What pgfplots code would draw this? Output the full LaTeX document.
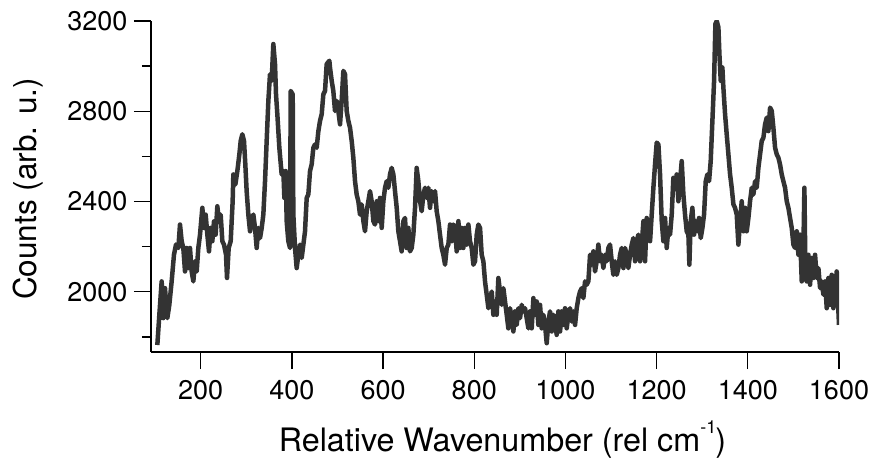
\documentclass[border=0pt]{standalone}
\usepackage{pgfplots}
\pgfplotsset{compat=1.18}
\usepackage{fontspec}
\setmainfont{TeX Gyre Heros}
\definecolor{linegray}{HTML}{333333}
\begin{document}
\begin{tikzpicture}
\path[use as bounding box] (-151pt,-112pt) rectangle (721pt,352pt);
\begin{axis}[
  at={(0pt,0pt)}, anchor=south west,
  scale only axis, width=688pt, height=331pt,
  xmin=91, xmax=1600, ymin=1733, ymax=3200,
  axis lines=left, axis line style={-, line width=1.3pt},
  every tick/.style={line width=1.3pt, black},
  tick align=outside,
  major tick length=17pt, minor tick length=9pt,
  xtick={200,400,...,1600},
  ytick={2000,2400,2800,3200},
  minor ytick={1800,2200,2600,3000},
  /pgf/number format/1000 sep={},
  /pgf/number format/assume math mode=true,
  tick label style={font=\fontsize{27}{27}\selectfont},
  xticklabel shift=8pt,
  yticklabel shift=3pt,
  xlabel={Relative Wavenumber (rel cm\raisebox{18pt}{\fontsize{18}{18}\selectfont -1}\kern-1pt)},
  xlabel style={font=\fontsize{32.3}{32.3}\selectfont, at={(axis description cs:0.5108,-0.2991)}, anchor=base},
  ylabel={Counts (arb. u.)},
  ylabel style={font=\fontsize{31.5}{31.5}\selectfont, at={(axis description cs:-0.1657,0.4924)}, anchor=base},
]
\addplot[linegray, line width=4.5pt, line join=round] coordinates {
(104.9,1764) (109.3,1898) (114.4,2046) (118.0,1883) (121.7,2016) (126.8,1883) (131.2,1942) (136.3,2046) (141.4,2164) (145.8,2209) (151.0,2194) (154.6,2298) (158.3,2224) (161.9,2194) (165.6,2090) (169.2,2194) (172.9,2105) (176.5,2194) (180.2,2090) (183.9,2046) (187.5,2135) (191.2,2090) (194.8,2194) (198.5,2253) (203.6,2372) (207.3,2283) (210.9,2342) (214.6,2253) (218.2,2179) (221.9,2283) (225.5,2224) (229.2,2312) (232.8,2253) (236.5,2379) (240.2,2312) (243.8,2342) (247.5,2224) (251.1,2209) (255.5,2164) (257.7,2061) (261.4,2194) (265.8,2224) (270.1,2401) (271.6,2520) (276.0,2475) (280.4,2535) (284.8,2609) (287.7,2668) (291.3,2698) (295.0,2668) (297.9,2564) (300.8,2446) (304.5,2342) (308.2,2268) (311.8,2327) (315.5,2342) (319.1,2283) (322.8,2194) (326.4,2283) (330.1,2238) (333.8,2283) (337.4,2342) (341.1,2490) (344.7,2668) (348.4,2846) (352.0,2964) (355.7,2935) (359.3,3098) (363.0,3009) (365.2,2875) (368.1,2787) (372.5,2638) (377.6,2520) (381.3,2535) (383.5,2416) (386.4,2535) (388.6,2312) (392.2,2224) (395.9,2194) (397.4,2890) (401.8,2875) (403.2,2342) (406.9,2194) (410.5,2105) (414.2,2164) (417.8,2209) (421.5,2150) (425.2,2209) (428.8,2268) (432.5,2416) (436.1,2431) (439.8,2535) (443.4,2564) (447.1,2638) (450.7,2653) (454.4,2638) (458.1,2712) (461.7,2757) (465.4,2787) (469.0,2875) (472.7,2890) (476.3,3009) (482.2,3024)
(483.6,2994) (487.3,2935) (490.9,2890) (494.6,2801) (498.3,2846) (501.9,2801) (505.6,2742) (509.2,2846) (512.9,2979) (516.5,2964) (520.2,2801) (523.9,2757) (527.5,2727) (531.2,2668) (534.8,2594) (538.5,2490) (542.1,2431) (545.8,2401) (549.4,2342) (553.1,2387) (556.8,2313) (560.4,2268) (564.1,2357) (567.7,2401) (571.4,2446) (575.0,2401) (578.7,2313) (582.3,2298) (586.0,2401) (589.7,2313) (593.3,2416) (597.0,2283) (600.6,2401) (604.3,2461) (607.9,2490) (611.6,2461) (615.2,2520) (618.9,2549) (622.6,2520) (626.2,2446) (629.9,2372) (633.5,2268) (637.2,2224) (640.8,2179) (644.5,2313) (648.1,2327) (651.8,2194) (655.5,2283) (659.1,2179) (662.8,2194) (666.4,2253) (670.1,2372) (673.7,2549) (677.4,2490) (681.1,2401) (684.7,2357) (688.4,2431) (692.0,2461) (695.7,2416) (699.3,2461) (703.0,2372) (706.6,2446) (710.3,2401) (714.0,2446) (717.6,2357) (721.3,2313) (724.9,2253) (728.6,2194) (732.2,2164) (735.9,2120) (739.6,2194) (743.2,2209) (746.9,2298) (750.5,2224) (754.2,2298) (757.8,2283) (761.5,2179) (765.2,2313) (768.8,2194) (772.5,2283) (776.1,2194) (779.8,2283) (783.4,2209) (787.1,2298) (790.7,2224) (794.4,2194) (798.1,2120) (801.7,2135) (805.4,2253) (809.0,2298) (812.7,2283) (816.3,2164) (820.0,2135) (823.6,2046) (827.3,1987) (831.0,1927)
(838.3,2001) (841.9,1898) (845.6,1957) (849.2,1898) (852.9,2061) (856.5,2001) (860.2,1942) (863.8,2016) (867.5,1957) (871.2,1898) (874.8,1838) (878.5,1927) (882.1,1883) (885.8,1824) (889.4,1913) (893.1,1853) (896.8,1927) (900.4,1883) (904.1,1942) (907.7,1913) (911.4,1927) (915.0,1883) (918.7,1838) (922.3,1913) (926.0,1838) (929.7,1972) (933.3,1898) (937.0,1957) (940.6,1853) (944.3,1942) (947.9,1838) (951.6,1898) (955.2,1853) (958.9,1772) (962.6,1868) (966.2,1913) (969.9,1824) (973.5,1898) (977.2,1868) (980.8,1809) (984.5,1913) (988.2,1824) (991.8,1913) (995.5,1853) (999.1,1927) (1002.8,1838) (1006.4,1898) (1010.1,1927) (1013.7,1868) (1017.4,1913) (1021.1,1853) (1024.7,1927) (1028.4,1972) (1032.0,2001) (1035.7,2016) (1039.3,1972) (1043.0,2046) (1046.6,2031) (1050.3,2046) (1054.0,2164) (1057.6,2120) (1061.3,2179) (1064.9,2090) (1068.6,2135) (1072.2,2209) (1075.9,2135) (1079.5,2164) (1083.2,2105) (1086.9,2164) (1090.5,2135) (1094.2,2194) (1097.8,2209) (1101.5,2135) (1105.1,2075) (1108.8,2135) (1112.5,2075) (1116.1,2105) (1119.8,2164) (1123.4,2194) (1127.1,2105) (1130.7,2194) (1134.4,2164) (1138.0,2105) (1141.7,2164) (1145.4,2209) (1149.0,2238) (1152.7,2135) (1156.3,2224) (1160.0,2253) (1163.6,2135) (1167.3,2209) (1171.0,2313) (1174.6,2135) (1178.3,2327) (1181.9,2283) (1185.6,2224) (1189.2,2342) (1192.9,2461) (1196.5,2564) (1200.2,2661) (1203.9,2653) (1207.5,2520)
(1211.2,2313) (1214.8,2224) (1218.5,2327) (1222.1,2194) (1225.8,2283) (1229.4,2253) (1233.1,2342) (1236.7,2505) (1240.4,2461) (1244.1,2520) (1247.7,2401) (1251.4,2490) (1255.0,2579) (1258.7,2431) (1262.3,2342) (1266.0,2268) (1269.7,2253) (1271.8,2120) (1274.8,2313) (1278.4,2372) (1282.1,2253) (1285.7,2313) (1289.4,2268) (1293.0,2327) (1296.7,2238) (1300.4,2283) (1304.0,2342) (1307.7,2490) (1311.3,2520) (1315.0,2490) (1318.6,2579) (1322.3,2757) (1326.0,2935) (1328.9,3187) (1331.8,3200) (1335.5,3172) (1337.7,3053) (1340.6,2935) (1344.2,2994) (1346.4,2905) (1350.1,2787) (1353.7,2698) (1357.4,2609) (1361.1,2520) (1364.7,2461) (1368.4,2387) (1372.0,2372) (1375.7,2342) (1379.3,2209) (1383.0,2313) (1386.6,2401) (1390.3,2268) (1394.0,2372) (1397.6,2268) (1401.3,2327) (1404.9,2401) (1408.6,2461) (1412.2,2431) (1415.9,2490) (1419.5,2461) (1423.2,2549) (1426.9,2609) (1430.5,2668) (1434.2,2683) (1437.8,2742) (1441.5,2772) (1445.1,2712) (1448.8,2816) (1452.5,2801) (1456.1,2727) (1459.8,2638) (1463.4,2609) (1467.1,2594) (1470.7,2564) (1474.4,2520) (1478.0,2490) (1481.7,2461) (1485.4,2401) (1489.0,2372) (1492.7,2327) (1496.3,2283) (1500.0,2209) (1503.6,2194) (1507.3,2268) (1511.0,2164) (1514.6,2253) (1518.3,2046) (1521.9,2194) (1524.1,2461) (1526.3,2105) (1529.2,2046) (1532.9,2164) (1536.5,2031) (1540.2,2150) (1543.9,2061) (1547.5,2164) (1551.2,2061) (1554.8,2105) (1558.5,2016) (1562.1,2046) (1565.8,1987) (1569.4,2046) (1573.1,1927) (1576.7,2061) (1580.4,1942) (1584.1,2075) (1587.7,1927) (1591.4,2001) (1595.0,2090) (1598.7,1913) (1600,1853)
};
\end{axis}
\end{tikzpicture}
\end{document}
